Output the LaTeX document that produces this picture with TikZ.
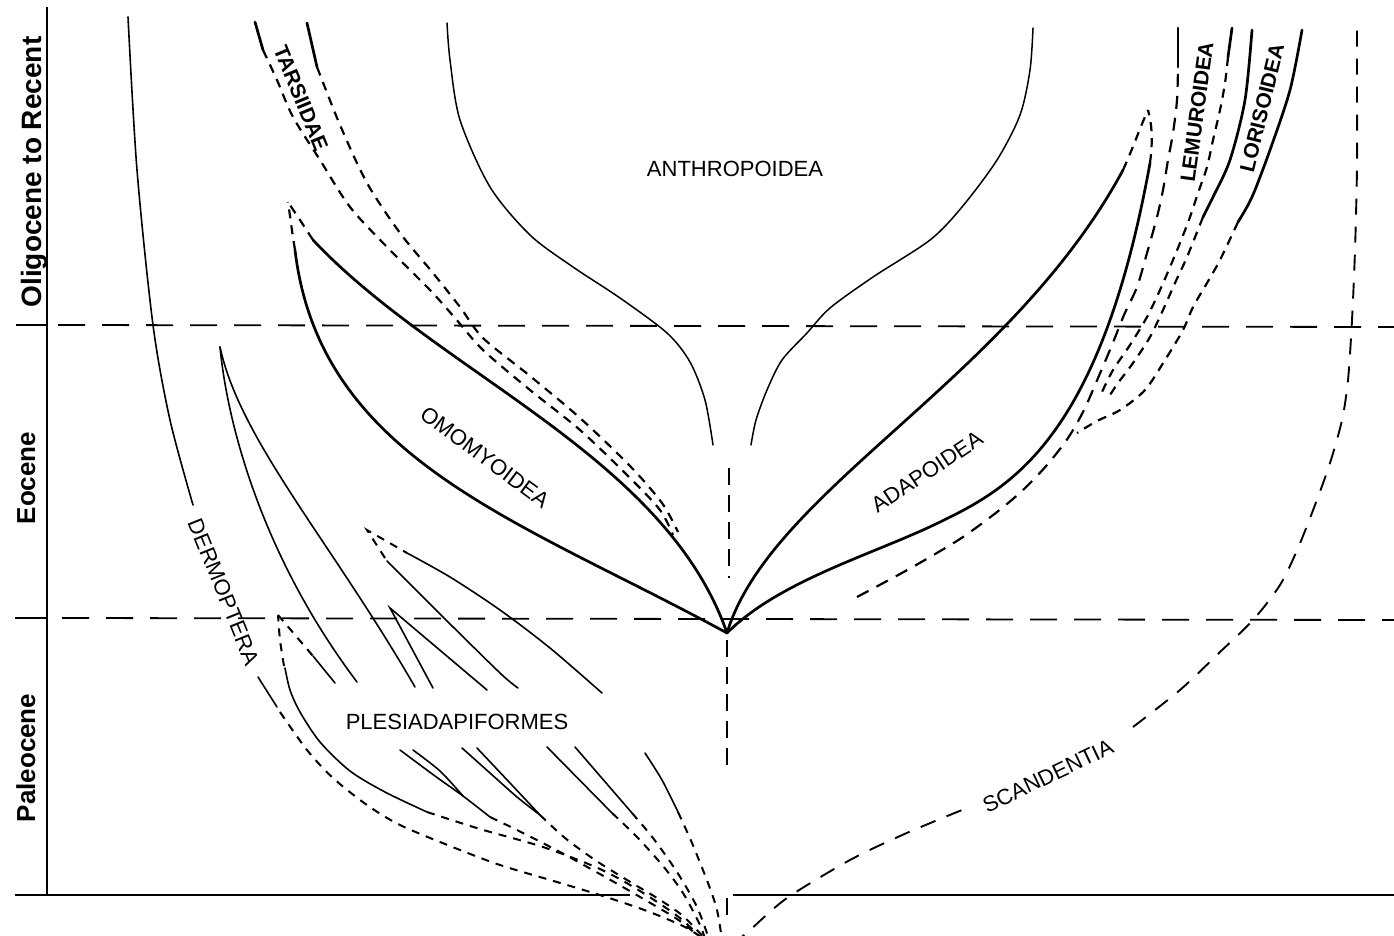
\documentclass[tikz,border=0pt]{standalone}
\usepackage{fontspec}
\setmainfont{Liberation Sans}
\tikzset{
 axisl/.style={line width=2.2pt},
 thinl/.style={line width=1.6pt, line cap=round, line join=miter},
 anthl/.style={line width=1.5pt, line cap=round},
 thickl/.style={line width=2.7pt, line cap=round},
 epoch/.style={line width=1.8pt, dash pattern=on 27pt off 17pt},
 sdash/.style={line width=2.2pt, dash pattern=on 9pt off 7pt},
 fdash/.style={line width=2pt, dash pattern=on 8pt off 7pt},
 mdash/.style={line width=2.2pt, dash pattern=on 13pt off 9pt},
 vdash/.style={line width=2.4pt, dash pattern=on 17pt off 10pt},
 scand/.style={line width=1.9pt, dash pattern=on 16pt off 12pt},
 lbl/.style={font=\fontsize{22}{24}\selectfont, inner sep=0pt},
 blbl/.style={font=\bfseries\fontsize{21}{24}\selectfont, inner sep=0pt},
 era/.style={font=\bfseries\fontsize{26}{28}\selectfont, inner sep=0pt, rotate=90, anchor=base},
}
\begin{document}
\begin{tikzpicture}[x=1pt,y=-1pt]
\useasboundingbox (0,0) rectangle (1394,936);
\clip (0,0) rectangle (1394,936);
% ---------- frame ----------
\coordinate (axtop) at (47,7);
\coordinate (axbot) at (47,895);
\draw[axisl] (axtop) -- (axbot);
\draw[axisl] (15,895) -- (630,895);
\draw[axisl] (733,895) -- (1394,895);
\draw[axisl] (16,325) -- (47,325);
\draw[axisl] (15,618) -- (47,618);
\draw[epoch] (58,325) -- (1394,327);
\draw[epoch] (62,618) -- (1394,620);
% ---------- epoch labels ----------
\node[era, font=\bfseries\fontsize{28}{30}\selectfont] (olig) at (41,172) {Oligocene to Recent};
\node[era] (eoc) at (35,478) {Eocene};
\node[era] (pal) at (35,758) {Paleocene};
% ---------- Dermoptera ----------
\draw[thinl] plot[smooth] coordinates {(128,17) (137,170) (153,325) (170,420) (193,505)};
\draw[thinl] (258,677) -- (277,707);
\draw[fdash] plot[smooth] coordinates {(280,712) (307,750) (333,778) (367,805) (400,825) (450,846) (500,865) (557,882) (603,896) (647,911) (685,927) (705,940)};
\node[lbl, rotate=-68] (derm) at (224,592) {DERMOPTERA};
% ---------- Plesiadapiformes ----------
\draw[fdash] plot[smooth] coordinates {(284,666) (280,640) (278,615)};
\draw[fdash] (278,615) -- (313,656);
\draw[thinl] plot[smooth] coordinates {(285,668) (290,690) (300,712) (320,742) (350,771) (385,792) (427,812)};
\draw[thinl] (313,656) -- (335,683);
\draw[fdash] plot[smooth] coordinates {(427,812) (480,829) (543,847) (600,869) (640,891) (680,918) (705,942)};
\draw[thinl] (220,347) .. controls (228,430) and (265,560) .. (357,682);
\draw[thinl] (220,347) .. controls (240,440) and (330,540) .. (415,687);
\draw[thinl] (433,688) -- (390,608) -- (487,690);
\draw[fdash] (385,558) -- (367,530) -- (407,553);
\draw[thinl] plot[smooth] coordinates {(387,561) (440,614) (500,673) (518,688)};
\draw[thinl] plot[smooth] coordinates {(407,553) (450,577) (500,610) (550,648) (602,693)};
\node[lbl] (plesi) at (457,722) {PLESIADAPIFORMES};
\draw[thinl] plot[smooth] coordinates {(400,750) (435,776) (463,796) (490,817)};
\draw[thinl] plot[smooth] coordinates {(413,750) (440,771) (463,796)};
\draw[fdash] plot[smooth] coordinates {(490,817) (517,830) (560,852) (607,878) (647,901) (680,921) (705,942)};
\draw[thinl] plot[smooth] coordinates {(462,748) (490,773) (517,797) (540,815)};
\draw[thinl] plot[smooth] coordinates {(477,748) (510,783) (540,815)};
\draw[fdash] plot[smooth] coordinates {(540,815) (565,838) (595,860) (627,880) (657,898) (683,916) (708,942)};
\draw[thinl] (547,747) -- (612,813);
\draw[fdash] plot[smooth] coordinates {(612,813) (637,837) (663,866) (683,893) (700,925) (706,942)};
\draw[thinl] (575,747) -- (632,813);
\draw[fdash] plot[smooth] coordinates {(632,813) (653,838) (677,872) (697,907) (710,942)};
\draw[thinl] plot[smooth] coordinates {(645,753) (662,780) (678,812)};
\draw[fdash] plot[smooth] coordinates {(678,812) (692,843) (708,883) (717,910) (722,940)};
% ---------- central stem ----------
\coordinate (P) at (727,633);
\draw[vdash] (729,468) -- (729,578);
\draw[vdash] (727,640) -- (727,773);
\draw[line width=2.2pt] (727,898) -- (727,915);
% ---------- Omomyoidea ----------
\coordinate (omoA) at (295,250);
\coordinate (omoB) at (313,240);
\coordinate (omoTop) at (288,202);
\draw[thickl] (P) .. controls (520,520) and (320,460) .. (omoA);
\draw[sdash] (omoA) .. controls (292,232) and (290,215) .. (omoTop);
\draw[thickl] (P) .. controls (665,455) and (440,375) .. (omoB);
\draw[sdash] (omoB) -- (300,220) -- (omoTop);
\node[lbl, rotate=-36.7] (omo) at (485,457) {OMOMYOIDEA};
% ---------- Tarsiidae ----------
\draw[thickl] (255,22) -- (263,50);
\draw[sdash] plot[smooth] coordinates {(263,50) (277,80) (293,117) (320,160) (350,207) (387,247) (430,290) (455,318) (483,350) (530,390) (580,430) (630,478) (660,510) (673,535)};
\draw[thickl] (307,23) -- (317,67);
\draw[sdash] plot[smooth] coordinates {(317,67) (340,125) (367,183) (400,233) (433,273) (460,307) (483,338) (530,376) (580,418) (630,466) (662,503) (678,532)};
\node[blbl, rotate=-67.7] (tars) at (301,98) {TARSIIDAE};
% ---------- Anthropoidea ----------
\draw[anthl] plot[smooth] coordinates {(447,23) (450,60) (460,120) (490,187) (530,235) (573,267) (620,298) (667,333) (690,362) (705,400) (713,445)};
\draw[anthl] plot[smooth] coordinates {(1033,28) (1030,70) (1020,115) (997,160) (962,207) (930,240) (873,277) (830,308) (807,333) (782,360) (767,390) (756,420) (751,445)};
\node[lbl] (anth) at (735,169) {ANTHROPOIDEA};
% ---------- Adapoidea ----------
\coordinate (adA) at (1123,170);
\coordinate (adB) at (1150,163);
\coordinate (adM) at (940,522);
\coordinate (adTop) at (1148,110);
\draw[thickl] (P) .. controls (770,490) and (1010,380) .. (adA);
\draw[sdash] (adA) .. controls (1133,148) and (1141,125) .. (adTop);
\draw[thickl] (P) .. controls (780,580) and (875,554) .. (adM) .. controls (1010,488) and (1100,440) .. (adB);
\draw[sdash] (adB) .. controls (1153,140) and (1152,125) .. (adTop);
\node[lbl, rotate=33.6] (adap) at (927,472) {ADAPOIDEA};
% ---------- Lemuroidea / Lorisoidea ----------
\draw[mdash] plot[smooth] coordinates {(857,597) (900,574) (930,557) (963,537) (997,512) (1023,490) (1047,465) (1068,438) (1084,410) (1098,378) (1112,345) (1124,315) (1137,287) (1147,253) (1157,217) (1163,190) (1168,160) (1173,133) (1177,100) (1178,67)};
\draw[thickl] (1178,28) -- (1178,67);
\draw[thickl] (1232,28) -- (1228,57);
\draw[sdash] plot[smooth] coordinates {(1228,57) (1225,83) (1220,110) (1213,140) (1207,167) (1198,193) (1190,217) (1180,243) (1170,267) (1160,290) (1147,317) (1130,345) (1113,370) (1102,392)};
\draw[thickl] plot[smooth] coordinates {(1252,30) (1245,100) (1230,160) (1213,197) (1203,217)};
\draw[sdash] plot[smooth] coordinates {(1203,217) (1187,257) (1175,283) (1163,310) (1150,337) (1133,363) (1118,383) (1110,395)};
\draw[thickl] plot[smooth] coordinates {(1302,30) (1290,90) (1270,150) (1252,197) (1238,222)};
\draw[sdash] plot[smooth] coordinates {(1238,222) (1220,260) (1207,283) (1193,307) (1183,330) (1165,360) (1145,390) (1120,410) (1097,421) (1077,433)};
\node[blbl, rotate=82.3] (lemu) at (1197,112) {LEMUROIDEA};
\node[blbl, rotate=76.3] (lori) at (1262,108) {LORISOIDEA};
% ---------- Scandentia ----------
\draw[scand] plot[smooth] coordinates {(732,945) (750,930) (787,898) (850,860) (900,836) (940,819) (967,808)};
\draw[scand] plot[smooth] coordinates {(1133,727) (1180,690) (1220,652) (1253,620) (1280,585) (1298,548) (1315,505) (1330,463) (1342,420) (1348,380) (1352,320) (1355,250) (1357,167) (1357,100) (1357,30)};
\node[lbl, rotate=25.6] (scan) at (1048,776) {SCANDENTIA};
\end{tikzpicture}
\end{document}
